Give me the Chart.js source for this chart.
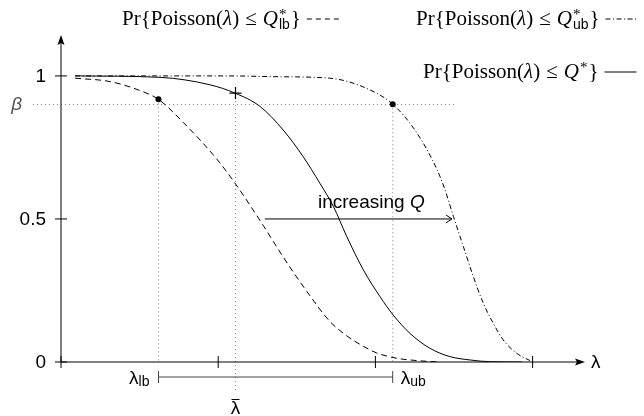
<!DOCTYPE html>
<html>
<head>
<meta charset="utf-8">
<script src="https://cdn.jsdelivr.net/npm/chart.js@4.4.3/dist/chart.umd.min.js"></script>
<style>
  html, body { margin: 0; background: #fff; }
  #wrap { width: 644px; height: 416px; }
</style>
</head>
<body>
<div id="wrap"><canvas id="chart"></canvas></div>
<script>
// Poisson CDF curves: lambda on x, probability on y
const lamLb   = [0.27, 0.94, 1.56, 1.86, 2.33, 2.97, 3.29, 3.61, 3.86, 4.24, 4.69, 5.13, 5.45, 5.77, 6.02, 6.41, 6.79, 7.20];
const probLb  = [0.992, 0.980, 0.945, 0.918, 0.838, 0.710, 0.633, 0.547, 0.477, 0.367, 0.247, 0.142, 0.092, 0.055, 0.032, 0.013, 0.005, 0];

const lamStar  = [0.27, 1.89, 2.84, 3.32, 3.80, 4.24, 4.62, 4.94, 5.20, 5.45, 5.77, 6.09, 6.34, 6.66, 7.04, 7.42, 7.81, 8.19, 8.80];
const probStar = [1.0, 0.995, 0.969, 0.940, 0.893, 0.811, 0.718, 0.625, 0.543, 0.440, 0.322, 0.228, 0.164, 0.100, 0.048, 0.019, 0.007, 0.001, 0];

const lamUb   = [0.27, 3.17, 4.18, 5.13, 5.76, 6.33, 6.79, 7.18, 7.33, 7.49, 7.68, 7.87, 8.06, 8.25, 8.44, 8.70, 8.95];
const probUb  = [1.0, 1.0, 0.997, 0.992, 0.962, 0.901, 0.801, 0.671, 0.601, 0.508, 0.403, 0.298, 0.205, 0.135, 0.077, 0.030, 0.005];

// marked points
const dotX   = [1.86, 6.33];
const dotY   = [0.918, 0.901];
const crossX = [3.33];
const crossY = [0.940];

// guide values
const beta = 0.9;
const lambdaLb = 1.86;
const lambdaBar = 3.33;
const lambdaUb = 6.33;
const arrowFrom = 3.89, arrowTo = 7.46, arrowAt = 0.5;

const xTicks = [0, 3, 6, 9];
const yTicks = [0, 0.5, 1];
const yTickLabels = ['0', '0.5', '1'];

const SANS = '"Liberation Sans", Arial, sans-serif';
const SERIF = '"Liberation Serif", "Times New Roman", serif';

const pts = (xs, ys) => xs.map((x, i) => ({x: x, y: ys[i]}));

// draw a row of text pieces, returns end x
function drawRuns(ctx, x, y, parts) {
  ctx.textAlign = 'left';
  ctx.textBaseline = 'alphabetic';
  parts.forEach(p => {
    if (p.gap) { x += p.gap; return; }
    if (p.sup !== undefined) {
      ctx.font = '15px ' + SERIF;
      const w1 = ctx.measureText(p.sup).width;
      ctx.fillText(p.sup, x + 1, y - 6);
      let w2 = 0;
      if (p.sub) {
        ctx.font = '14px ' + SANS;
        w2 = ctx.measureText(p.sub).width;
        ctx.fillText(p.sub, x + 1, y + 4);
      }
      x += Math.max(w1, w2) + 2;
      return;
    }
    ctx.font = p.f;
    ctx.fillText(p.t, x, y);
    x += ctx.measureText(p.t).width;
  });
  return x;
}

function legendParts(sub) {
  return [
    {t: 'Pr{Poisson(', f: '21px ' + SERIF},
    {t: 'λ', f: 'italic 21px ' + SERIF},
    {t: ')', f: '21px ' + SERIF},
    {gap: 6},
    {t: '≤', f: '21px ' + SERIF},
    {gap: 6},
    {t: 'Q', f: 'italic 21px ' + SERIF},
    {sup: '*', sub: sub},
    {t: '}', f: '21px ' + SERIF}
  ];
}

const decor = {
  id: 'decor',
  beforeDatasetsDraw(chart) {
    const ctx = chart.ctx;
    const xs = chart.scales.x, ys = chart.scales.y;
    const X = v => xs.getPixelForValue(v);
    const Y = v => ys.getPixelForValue(v);
    ctx.save();

    // dotted guides
    ctx.strokeStyle = '#888';
    ctx.lineWidth = 1;
    ctx.setLineDash([1, 3]);
    ctx.beginPath();
    ctx.moveTo(33, Y(beta)); ctx.lineTo(X(7.52), Y(beta));
    ctx.moveTo(X(lambdaLb), Y(dotY[0])); ctx.lineTo(X(lambdaLb), Y(0));
    ctx.moveTo(X(lambdaUb), Y(dotY[1])); ctx.lineTo(X(lambdaUb), Y(0));
    ctx.moveTo(X(lambdaBar), Y(crossY[0])); ctx.lineTo(X(lambdaBar), Y(0) + 31);
    ctx.stroke();
    ctx.setLineDash([]);

    // axes
    ctx.strokeStyle = '#000';
    ctx.fillStyle = '#000';
    const x0 = X(0), y0 = Y(0);
    const top = chart.chartArea.top, right = chart.chartArea.right;
    ctx.beginPath();
    ctx.moveTo(x0, y0); ctx.lineTo(x0, top + 6);
    ctx.moveTo(x0, y0); ctx.lineTo(right - 6, y0);
    ctx.stroke();
    ctx.beginPath();
    ctx.moveTo(x0, top); ctx.lineTo(x0 - 3.5, top + 10); ctx.lineTo(x0, top + 8); ctx.lineTo(x0 + 3.5, top + 10);
    ctx.closePath(); ctx.fill();
    ctx.beginPath();
    ctx.moveTo(right, y0); ctx.lineTo(right - 10, y0 - 3.5); ctx.lineTo(right - 8, y0); ctx.lineTo(right - 10, y0 + 3.5);
    ctx.closePath(); ctx.fill();

    // ticks
    ctx.beginPath();
    yTicks.forEach(v => { ctx.moveTo(x0 - 6, Y(v)); ctx.lineTo(x0 + 6, Y(v)); });
    xTicks.forEach(v => { ctx.moveTo(X(v), y0 - 6); ctx.lineTo(X(v), y0 + 6); });
    ctx.stroke();

    // bracket between lambda_lb and lambda_ub
    ctx.strokeStyle = '#444';
    const by = y0 + 15;
    ctx.beginPath();
    ctx.moveTo(X(lambdaLb), by); ctx.lineTo(X(lambdaUb), by);
    ctx.moveTo(X(lambdaLb), by - 6); ctx.lineTo(X(lambdaLb), by + 6);
    ctx.moveTo(X(lambdaUb), by - 6); ctx.lineTo(X(lambdaUb), by + 6);
    ctx.stroke();

    // increasing Q arrow
    ctx.strokeStyle = '#000';
    const ay = Y(arrowAt);
    ctx.beginPath();
    ctx.moveTo(X(arrowFrom), ay); ctx.lineTo(X(arrowTo), ay);
    ctx.moveTo(X(arrowTo) - 6, ay - 4); ctx.lineTo(X(arrowTo), ay); ctx.lineTo(X(arrowTo) - 6, ay + 4);
    ctx.stroke();
    ctx.restore();
  },
  afterDraw(chart) {
    const ctx = chart.ctx;
    const xs = chart.scales.x, ys = chart.scales.y;
    const X = v => xs.getPixelForValue(v);
    const Y = v => ys.getPixelForValue(v);
    const x0 = X(0), y0 = Y(0);
    ctx.save();
    ctx.fillStyle = '#000';

    // y tick labels
    ctx.font = '19px ' + SANS;
    ctx.textAlign = 'right';
    ctx.textBaseline = 'middle';
    yTicks.forEach((v, i) => ctx.fillText(yTickLabels[i], x0 - 15, Y(v) + 1));

    // beta
    ctx.fillStyle = '#555';
    ctx.font = 'italic 19px ' + SANS;
    ctx.fillText('β', 22, Y(beta));
    ctx.fillStyle = '#000';

    // x axis label
    ctx.textAlign = 'left';
    ctx.font = '19px ' + SANS;
    ctx.fillText('λ', chart.chartArea.right + 6, y0 + 1);

    // lambda labels under the axis
    ctx.textBaseline = 'alphabetic';
    ctx.font = '19px ' + SANS;
    const lw = ctx.measureText('λ').width;
    ctx.font = '14px ' + SANS;
    const lbw = ctx.measureText('lb').width;
    const lbRight = X(lambdaLb) - 9;
    ctx.fillText('lb', lbRight - lbw, y0 + 24);
    ctx.font = '19px ' + SANS;
    ctx.fillText('λ', lbRight - lbw - lw, y0 + 22);
    const ubLeft = X(lambdaUb) + 8;
    ctx.fillText('λ', ubLeft, y0 + 22);
    ctx.font = '14px ' + SANS;
    ctx.fillText('ub', ubLeft + lw, y0 + 24);

    // lambda bar
    ctx.font = '19px ' + SANS;
    ctx.textAlign = 'center';
    ctx.fillText('λ', X(lambdaBar), y0 + 52);
    ctx.strokeStyle = '#000';
    ctx.lineWidth = 1;
    ctx.beginPath();
    ctx.moveTo(X(lambdaBar) - 4, y0 + 37.5); ctx.lineTo(X(lambdaBar) + 4, y0 + 37.5);
    ctx.stroke();

    // increasing Q
    ctx.textAlign = 'left';
    ctx.font = '19px ' + SANS;
    ctx.fillText('increasing ', 318, 208);
    const iw = ctx.measureText('increasing ').width;
    ctx.font = 'italic 19px ' + SANS;
    ctx.fillText('Q', 318 + iw, 208);

    // legend entries
    const samples = [
      {x: 122, y: 25, sub: 'lb', dash: [5, 4]},
      {x: 416, y: 25, sub: 'ub', dash: [5, 2.5, 1, 2.5]},
      {x: 423, y: 78, sub: '', dash: []}
    ];
    samples.forEach(s => {
      const end = drawRuns(ctx, s.x, s.y, legendParts(s.sub));
      ctx.setLineDash(s.dash);
      ctx.beginPath();
      ctx.moveTo(end + 6, s.y - 6); ctx.lineTo(end + 38, s.y - 6);
      ctx.stroke();
    });
    ctx.setLineDash([]);
    ctx.restore();
  }
};

new Chart(document.getElementById('chart'), {
  type: 'line',
  data: {
    datasets: [
      {data: pts(dotX, dotY), showLine: false, pointRadius: 3, pointStyle: 'circle',
       pointBackgroundColor: '#000', pointBorderColor: '#000', borderWidth: 0},
      {data: pts(crossX, crossY), showLine: false, pointRadius: 6, pointStyle: 'cross',
       pointBorderColor: '#000', pointBorderWidth: 1.2},
      {data: pts(lamStar, probStar), borderColor: '#000', borderWidth: 1, pointRadius: 0,
       cubicInterpolationMode: 'monotone'},
      {data: pts(lamLb, probLb), borderColor: '#000', borderWidth: 1, pointRadius: 0,
       borderDash: [6, 4], cubicInterpolationMode: 'monotone'},
      {data: pts(lamUb, probUb), borderColor: '#000', borderWidth: 1, pointRadius: 0,
       borderDash: [5, 2.5, 1, 2.5], cubicInterpolationMode: 'monotone'}
    ]
  },
  options: {
    responsive: true,
    maintainAspectRatio: false,
    animation: false,
    layout: {padding: {left: 61, right: 59, top: 35, bottom: 54}},
    scales: {
      x: {type: 'linear', min: 0, max: 10, display: false},
      y: {type: 'linear', min: 0, max: 1.143, display: false}
    },
    plugins: {legend: {display: false}, tooltip: {enabled: false}}
  },
  plugins: [decor]
});
</script>
</body>
</html>
